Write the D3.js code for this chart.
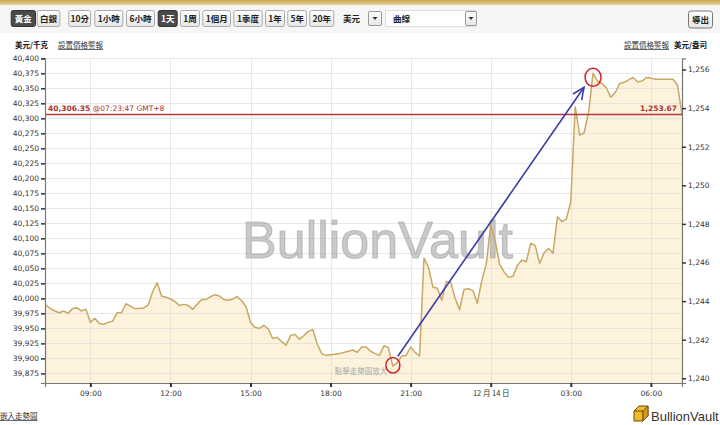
<!DOCTYPE html>
<html><head><meta charset="utf-8">
<script src="https://cdn.jsdelivr.net/npm/d3@7/dist/d3.min.js"></script>
<style>
html,body{margin:0;padding:0;background:#fff;overflow:hidden;}
svg{display:block;}
</style></head><body>
<svg id="chart" width="720" height="425"></svg>
<script>
// ---------- DATA ----------
const seriesStart = "2013-12-13T07:20:00";
const seriesStepMinutes = 10;
const goldUsdPerKg = [
 39989,39983,39979,39976,39979,39975,39983,39984,39979,39982,
 39960,39967,39958,39957,39960,39962,39976,39976,39991,39987,
 39983,39983,39984,39989,40011,40026,40004,40002,39999,39995,
 39988,39990,39988,39982,39990,39998,39998,40003,40006,40004,
 39998,39997,39999,40003,39996,39986,39960,39952,39950,39955,
 39949,39933,39935,39928,39922,39938,39940,39932,39938,39945,
 39948,39924,39908,39905,39906,39907,39908,39910,39912,39914,
 39910,39919,39919,39912,39908,39905,39921,39918,39887,39893,
 39904,39905,39919,39910,39904,40067,40052,40019,40017,39997,
 40028,40027,40000,39981,40015,40016,40013,39992,40030,40057,
 40122,40096,40057,40044,40035,40037,40055,40064,40061,40092,
 40088,40058,40076,40083,40075,40136,40128,40132,40161,40319,
 40272,40276,40310,40375,40362,40358,40351,40335,40343,40358,
 40360,40364,40368,40361,40362,40368,40367,40365,40365,40365,
 40365,40365,40355,40306.35
];
const leftTicks = [39875,39900,39925,39950,39975,40000,40025,40050,40075,40100,40125,40150,40175,40200,40225,40250,40275,40300,40325,40350,40375,40400];
const rightTicks = [1240,1242,1244,1246,1248,1250,1252,1254,1256];
const xTickTimes = ["2013-12-13T09:00:00","2013-12-13T12:00:00","2013-12-13T15:00:00","2013-12-13T18:00:00","2013-12-13T21:00:00","2013-12-14T00:00:00","2013-12-14T03:00:00","2013-12-14T06:00:00"];
const xTickLabels = ["09:00","12:00","15:00","18:00","21:00","12 月 14 日","03:00","06:00"];
const lastPriceKg = 40306.35;
const lastPriceOz = 1253.67;
const lastPriceTime = "@07:23:47 GMT+8";
const ozPerKg = 32.1507;
const metalButtons = ["黃金","白銀"];
const rangeButtons = ["10分","1小時","6小時","1天","1周","1個月","1季度","1年","5年","20年"];
const selectedLabels = ["黃金","1天"];

// ---------- LAYOUT ----------
const W = 720, H = 425;
const plot = {left:45, right:682, top:58.3, bottom:383};
const svg = d3.select("#chart");
const parse = d3.isoParse;
const t0 = parse(seriesStart);
const data = goldUsdPerKg.map((v,i)=>({t:new Date(t0.getTime()+i*seriesStepMinutes*60000), v}));

const x = d3.scaleTime()
  .domain([parse("2013-12-13T07:18:00"), parse("2013-12-14T07:10:00")])
  .range([plot.left, plot.right]);
const y = d3.scaleLinear().domain([39859, 40400]).range([plot.bottom, plot.top]);
const yR = d3.scaleLinear().domain([39859/ozPerKg, 40400/ozPerKg]).range([plot.bottom, plot.top]);

const FONT = "'DejaVu Sans', Verdana, sans-serif";
const CJK = "'Noto Sans CJK TC', 'Noto Sans CJK SC', sans-serif";

// ---------- TOOLBAR ----------
const defs = svg.append("defs");
const gg = defs.append("linearGradient").attr("id","goldbar").attr("x1",0).attr("y1",0).attr("x2",0).attr("y2",1);
gg.append("stop").attr("offset","0%").attr("stop-color","#c9a552");
gg.append("stop").attr("offset","100%").attr("stop-color","#e8d49a");
const bg = defs.append("linearGradient").attr("id","btn").attr("x1",0).attr("y1",0).attr("x2",0).attr("y2",1);
bg.append("stop").attr("offset","0%").attr("stop-color","#ffffff");
bg.append("stop").attr("offset","100%").attr("stop-color","#e6e6e6");

svg.append("rect").attr("x",0).attr("y",0).attr("width",W).attr("height",H).attr("fill","#fff");
svg.append("rect").attr("x",0).attr("y",5).attr("width",W).attr("height",28).attr("fill","#f6f6f6");
svg.append("rect").attr("x",0).attr("y",0).attr("width",W).attr("height",5).attr("fill","url(#goldbar)");

const buttonBoxes = [[10.7,35],[36.7,59.3],[68.3,90],[94.3,122.3],[126,154],[157.7,176.7],[180,199],[202.3,230],[233.3,261.7],[265,284],[287.3,306],[309.3,333.3]];
const allButtons = metalButtons.concat(rangeButtons);
const bgBtn = svg.append("g");
allButtons.forEach((lab,i)=>{
  const [a,b] = buttonBoxes[i];
  const sel = selectedLabels.includes(lab);
  bgBtn.append("rect").attr("x",a+0.5).attr("y",10.5).attr("width",b-a).attr("height",16).attr("rx",2)
    .attr("fill", sel ? "#4a4a4a" : "url(#btn)").attr("stroke", sel ? "#333" : "#aaa");
  bgBtn.append("text").attr("x",(a+b)/2+0.5).attr("y",22).attr("text-anchor","middle")
    .attr("font-family",CJK).attr("font-size",8.5).attr("font-weight",700)
    .attr("fill", sel ? "#fff" : "#222").text(lab);
});
// currency select
svg.append("text").attr("x",343).attr("y",22).attr("font-family",CJK).attr("font-size",8.5).attr("font-weight",700).attr("fill","#222").text("美元");
svg.append("rect").attr("x",368.5).attr("y",11.5).attr("width",13).attr("height",14).attr("fill","url(#btn)").attr("stroke","#999").attr("rx",1.5);
svg.append("path").attr("d","M372.5,17 L377.5,17 L375,20 Z").attr("fill","#333");
svg.append("rect").attr("x",385.5).attr("y",10.5).attr("width",91).attr("height",16).attr("fill","#fff").attr("stroke","#ddd");
svg.append("text").attr("x",393).attr("y",22).attr("font-family",CJK).attr("font-size",8.5).attr("font-weight",700).attr("fill","#222").text("曲線");
svg.append("rect").attr("x",465.5).attr("y",11.5).attr("width",11).attr("height",14).attr("fill","url(#btn)").attr("stroke","#999").attr("rx",1.5);
svg.append("path").attr("d","M468.5,17 L473.5,17 L471,20 Z").attr("fill","#333");
svg.append("rect").attr("x",688.5).attr("y",11).attr("width",24).attr("height",17).attr("rx",2.5).attr("fill","url(#btn)").attr("stroke","#777");
svg.append("text").attr("x",700.5).attr("y",23).attr("text-anchor","middle").attr("font-family",CJK).attr("font-size",8.5).attr("font-weight",700).attr("fill","#222").text("導出");

// unit labels
svg.append("text").attr("x",15).attr("y",48).attr("font-family",CJK).attr("font-size",7.5).attr("font-weight",700).attr("fill","#111").text("美元/千克");
svg.append("text").attr("x",58).attr("y",48).attr("font-family",CJK).attr("font-size",7.5).attr("fill","#333").attr("text-decoration","underline").text("設置價格警報");
svg.append("text").attr("x",669).attr("y",48).attr("text-anchor","end").attr("font-family",CJK).attr("font-size",7.5).attr("fill","#333").attr("text-decoration","underline").text("設置價格警報");
svg.append("text").attr("x",674).attr("y",48).attr("font-family",CJK).attr("font-size",7.5).attr("font-weight",700).attr("fill","#111").text("美元/盎司");

// ---------- PLOT ----------
const area = d3.area().x(d=>x(d.t)).y0(plot.bottom).y1(d=>y(d.v));
const line = d3.line().x(d=>x(d.t)).y(d=>y(d.v));
svg.append("path").datum(data).attr("d",area).attr("fill","#fdf3dc");

// grid
const grid = svg.append("g").attr("stroke","#d8d8d8").attr("stroke-opacity",0.6).attr("stroke-width",1);
leftTicks.forEach(v=>{ grid.append("line").attr("x1",plot.left).attr("x2",plot.right).attr("y1",Math.round(y(v))+0.5).attr("y2",Math.round(y(v))+0.5); });
xTickTimes.forEach(s=>{ const xx=Math.round(x(parse(s)))+0.5; grid.append("line").attr("x1",xx).attr("x2",xx).attr("y1",plot.top).attr("y2",plot.bottom); });

// watermark
svg.append("text").attr("x",(plot.left+plot.right)/2+14).attr("y",258).attr("text-anchor","middle")
  .attr("font-family","'Liberation Sans', Arial, sans-serif").attr("font-size",52)
  .attr("fill","#a6a6a6").attr("fill-opacity",0.6)
  .attr("stroke","#a6a6a6").attr("stroke-opacity",0.6).attr("stroke-width",1.2).text("BullionVault");

// series line
svg.append("path").datum(data).attr("d",line).attr("fill","none").attr("stroke","#c8a864").attr("stroke-width",1.5).attr("stroke-linejoin","round");

// last price line
const yLast = y(lastPriceKg);
svg.append("line").attr("x1",plot.left).attr("x2",plot.right).attr("y1",yLast).attr("y2",yLast).attr("stroke","#b33a3a").attr("stroke-width",1.5);
const lp = svg.append("text").attr("x",plot.left+3).attr("y",yLast-3.5).attr("font-family",FONT).attr("font-size",7.5).attr("fill","#a83232");
lp.append("tspan").attr("font-weight",700).text(d3.format(",.2f")(lastPriceKg)+" ");
lp.append("tspan").text(lastPriceTime);
svg.append("text").attr("x",plot.right-5).attr("y",yLast-3.5).attr("text-anchor","end").attr("font-family",FONT).attr("font-size",7.5).attr("font-weight",700).attr("fill","#a83232").text(d3.format(",.2f")(lastPriceOz));

// axes
const axL = d3.axisLeft(y).tickValues(leftTicks).tickFormat(d3.format(",")).tickSize(4).tickPadding(2);
const gL = svg.append("g").attr("transform",`translate(${plot.left},0)`).call(axL);
const axR = d3.axisRight(yR).tickValues(rightTicks).tickFormat(d3.format(",")).tickSize(4).tickPadding(2);
const gR = svg.append("g").attr("transform",`translate(${plot.right},0)`).call(axR);
const axB = d3.axisBottom(x).tickValues(xTickTimes.map(parse)).tickFormat((d,i)=>xTickLabels[i]).tickSize(4).tickPadding(4);
const gB = svg.append("g").attr("transform",`translate(0,${plot.bottom})`).call(axB);
[gL,gR,gB].forEach(g=>{
  g.select(".domain").attr("stroke","#777").attr("stroke-width",1.2);
  g.selectAll(".tick line").attr("stroke","#333").attr("stroke-width",1.5);
  g.selectAll("text").attr("font-family",FONT).attr("font-size",7.5).attr("fill","#333");
});
gB.selectAll(".tick line").attr("stroke-width",2);
gB.selectAll("text").filter((d,i)=>i===5).attr("font-family",CJK);

// ---------- ANNOTATIONS ----------
const iMin = d3.minIndex(data, d=>d.v);
const iMax = d3.maxIndex(data, d=>d.v);
const pMin = [x(data[iMin].t), y(data[iMin].v)];
const pMax = [x(data[iMax].t), y(data[iMax].v)];
svg.append("text").attr("x",pMin[0]-58).attr("y",pMin[1]+8).attr("font-family",CJK).attr("font-size",7.5).attr("fill","#aaa").text("點擊走勢圖放大");
svg.append("ellipse").attr("cx",pMin[0]).attr("cy",pMin[1]-1).attr("rx",7).attr("ry",7.8).attr("fill","none").attr("stroke","#d42020").attr("stroke-width",1.5);
svg.append("ellipse").attr("cx",pMax[0]).attr("cy",pMax[1]+4).attr("rx",8).attr("ry",9).attr("fill","none").attr("stroke","#d42020").attr("stroke-width",1.5);
const a0 = [pMin[0]+5, pMin[1]-10], a1 = [pMax[0]-9, pMax[1]+14];
svg.append("line").attr("x1",a0[0]).attr("y1",a0[1]).attr("x2",a1[0]).attr("y2",a1[1]).attr("stroke","#3c3ca8").attr("stroke-width",1.6);
const ang = Math.atan2(a1[1]-a0[1], a1[0]-a0[0]);
const hl = 13, spread = 0.42;
const h1 = [a1[0]-hl*Math.cos(ang-spread), a1[1]-hl*Math.sin(ang-spread)];
const h2 = [a1[0]-hl*Math.cos(ang+spread), a1[1]-hl*Math.sin(ang+spread)];
svg.append("path").attr("d",`M${h1[0]},${h1[1]} L${a1[0]},${a1[1]} L${h2[0]},${h2[1]}`).attr("fill","none").attr("stroke","#3c3ca8").attr("stroke-width",1.6);

// ---------- FOOTER ----------
svg.append("text").attr("x",0).attr("y",419).attr("font-family",CJK).attr("font-size",7.5).attr("fill","#333").attr("text-decoration","underline").text("嵌入走勢圖");
const logo = svg.append("g").attr("transform","translate(634,406)");
logo.append("path").attr("d","M0,5 L5,0 L14,0 L14,10 L9,15 L0,15 Z").attr("fill","#f2b92a").attr("stroke","#6b4a10").attr("stroke-width",1);
logo.append("path").attr("d","M0,5 L9,5 L14,0 M9,5 L9,15").attr("fill","none").attr("stroke","#6b4a10").attr("stroke-width",1);
logo.append("path").attr("d","M9,5 L14,0 L14,10 L9,15 Z").attr("fill","#d8961a").attr("stroke","#6b4a10").attr("stroke-width",0.8);
svg.append("text").attr("x",651).attr("y",421).attr("font-family","'Liberation Sans', Arial, sans-serif").attr("font-size",13).attr("fill","#333").text("BullionVault");
</script>
</body></html>
